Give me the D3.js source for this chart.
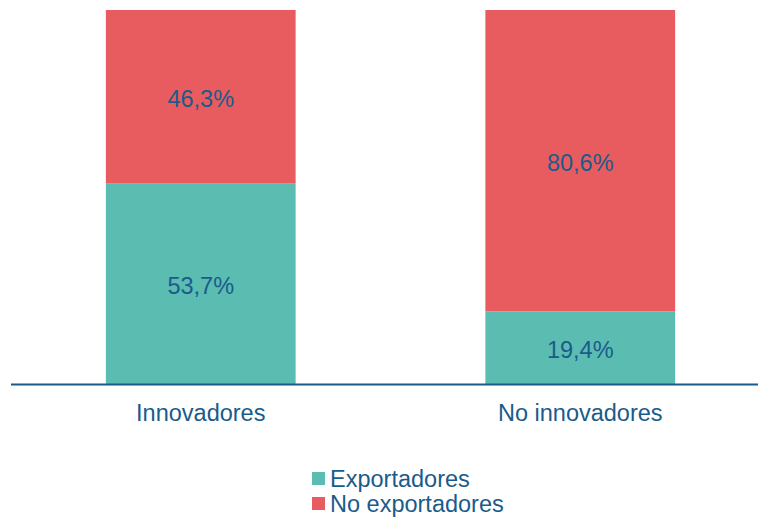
<!DOCTYPE html>
<html lang="es">
<head>
	<meta charset="UTF-8">
	<title>Innovadores y exportadores</title>
	<script src="https://cdn.jsdelivr.net/npm/d3@7"></script>
	<style>
		body { margin: 0; background: #fff; }
		text { font-family: "Liberation Sans", Arial, sans-serif; fill: #1a5b8a; }
	</style>
</head>
<body>
	<div id="vis"></div>

	<script>
		var width = 758;
		var height = 517;

		// data
		var categories = ["Innovadores", "No innovadores"];
		var seriesNames = ["Exportadores", "No exportadores"];
		var exportadores = [53.7, 19.4];
		var noExportadores = [46.3, 80.6];
		var colors = ["#5bbcb2", "#e85c5f"];

		var svg = d3.select("#vis").append("svg")
				.attr("width", width)
				.attr("height", height);

		var x = d3.scaleBand()
				.domain(categories)
				.range([11, 770])
				.paddingInner(0.5)
				.paddingOuter(0.25);

		var y = d3.scaleLinear()
				.domain([0, 100])
				.range([384, 10]);

		// build stack rows from the arrays
		var rows = categories.map(function(c, i) {
			return { cat: c, Exportadores: exportadores[i], "No exportadores": noExportadores[i] };
		});
		var stacked = d3.stack().keys(seriesNames)(rows);

		var fmt = function(v) { return d3.format(".1f")(v).replace(".", ",") + "%"; };

		var groups = svg.selectAll("g.series")
				.data(stacked)
				.enter().append("g")
				.attr("class", "series")
				.attr("fill", function(d, i) { return colors[i]; });

		groups.selectAll("rect")
				.data(function(d) { return d; })
				.enter().append("rect")
				.attr("x", function(d) { return x(d.data.cat); })
				.attr("y", function(d) { return y(d[1]); })
				.attr("width", x.bandwidth())
				.attr("height", function(d) { return y(d[0]) - y(d[1]); });

		groups.selectAll("text")
				.data(function(d) { return d; })
				.enter().append("text")
				.attr("x", function(d) { return x(d.data.cat) + x.bandwidth() / 2; })
				.attr("y", function(d) { return (y(d[0]) + y(d[1])) / 2 + 2; })
				.attr("dy", "0.35em")
				.attr("text-anchor", "middle")
				.attr("font-size", 23.5)
				.text(function(d) { return fmt(d[1] - d[0]); });

		// category axis
		var axis = svg.append("g")
				.attr("transform", "translate(0," + y(0) + ")")
				.call(d3.axisBottom(x).tickSize(0).tickPadding(20));
		axis.select(".domain")
				.attr("d", "M11,0.5H758")
				.attr("stroke", "#1a5b8a")
				.attr("stroke-width", 2);
		axis.selectAll("text")
				.attr("font-size", 23.5)
				.attr("fill", "#1a5b8a")
				.attr("font-family", "Liberation Sans, Arial, sans-serif");

		// legend
		var legend = svg.append("g")
				.selectAll("g")
				.data(seriesNames)
				.enter().append("g")
				.attr("transform", function(d, i) { return "translate(312," + (472 + i * 25) + ")"; });

		legend.append("rect")
				.attr("width", 13)
				.attr("height", 13)
				.attr("fill", function(d, i) { return colors[i]; });

		legend.append("text")
				.attr("x", 18)
				.attr("y", 7)
				.attr("dy", "0.35em")
				.attr("font-size", 23.5)
				.text(function(d) { return d; });
	</script>
</body>
</html>
